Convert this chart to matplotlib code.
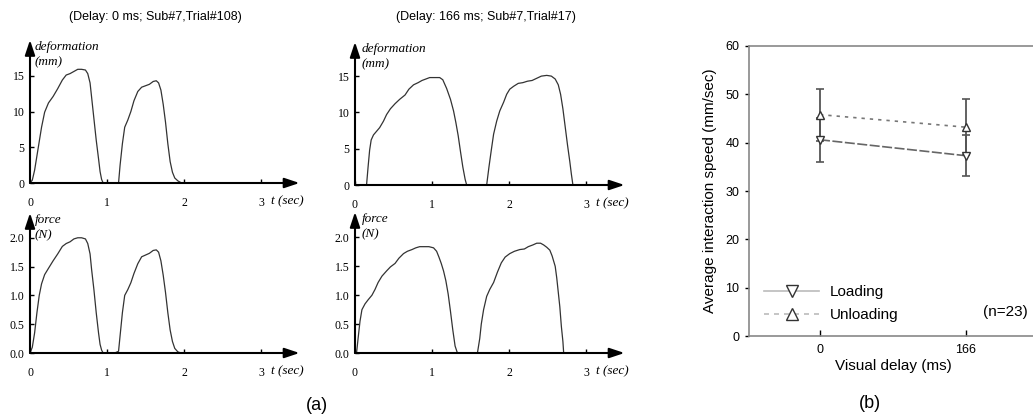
"""
Deformation / force traces for two trials (a) and mean interaction speed vs visual delay (b).
"""

import matplotlib.pyplot as plt
from matplotlib.lines import Line2D

W, H = 1033, 419

# ---- panel (a) traces ----
# Delay 0 ms, deformation (mm)
d0_t1 = [0, .03, .06, .09, .12, .15, .19, .24, .30, .36, .42, .47, .52, .57, .62, .67, .72, .75, .78, .80, .83, .86, .89, .91, .93, .95]
d0_v1 = [0, .4, 1.8, 3.8, 5.8, 7.8, 9.9, 11.2, 12.1, 13.2, 14.4, 15.1, 15.3, 15.6, 15.9, 15.9, 15.8, 15.3, 14.0, 12.0, 9.0, 6.0, 3.4, 1.6, .5, 0]
d0_t2 = [1.15, 1.17, 1.20, 1.23, 1.27, 1.31, 1.35, 1.40, 1.45, 1.50, 1.55, 1.60, 1.64, 1.67, 1.70, 1.73, 1.76, 1.79, 1.82, 1.85, 1.88, 1.92, 1.96, 2.0]
d0_v2 = [0, 2.5, 5.5, 7.8, 8.8, 10.0, 11.5, 12.8, 13.4, 13.6, 13.8, 14.2, 14.3, 14.0, 13.0, 11.0, 8.5, 5.5, 3.0, 1.5, .7, .3, .05, 0]

# Delay 0 ms, force (N)
f0_t1 = [0, .03, .06, .09, .12, .15, .19, .24, .30, .36, .42, .47, .52, .57, .62, .67, .72, .75, .78, .80, .83, .86, .89, .91, .93, .95]
f0_v1 = [0, .1, .35, .7, 1.0, 1.2, 1.36, 1.47, 1.6, 1.72, 1.85, 1.9, 1.93, 1.98, 2.0, 2.0, 1.98, 1.9, 1.72, 1.45, 1.1, .7, .35, .15, .05, 0]
f0_t2 = [1.10, 1.15, 1.17, 1.20, 1.23, 1.27, 1.31, 1.35, 1.40, 1.45, 1.50, 1.55, 1.60, 1.64, 1.67, 1.70, 1.73, 1.76, 1.79, 1.82, 1.85, 1.88, 1.92, 1.96, 2.0]
f0_v2 = [0, .03, .3, .7, 1.0, 1.1, 1.22, 1.38, 1.55, 1.67, 1.70, 1.73, 1.78, 1.79, 1.75, 1.6, 1.35, 1.05, .7, .4, .2, .08, .02, 0, 0]

# Delay 166 ms, deformation (mm)
d166_t1 = [.15, .17, .19, .21, .24, .28, .32, .37, .41, .46, .52, .58, .65, .70, .76, .82, .87, .92, .97, 1.03, 1.10, 1.14, 1.19, 1.24, 1.28, 1.31, 1.34, 1.37, 1.40, 1.43, 1.45]
d166_v1 = [0, 2.5, 4.8, 6.2, 6.9, 7.4, 7.9, 8.8, 9.7, 10.5, 11.2, 11.8, 12.4, 13.2, 13.8, 14.1, 14.4, 14.6, 14.8, 14.8, 14.8, 14.5, 13.3, 11.8, 10.2, 8.6, 6.8, 4.6, 2.5, .8, 0]
d166_t2 = [1.71, 1.74, 1.77, 1.80, 1.84, 1.88, 1.93, 1.97, 2.01, 2.06, 2.12, 2.18, 2.24, 2.30, 2.36, 2.42, 2.49, 2.55, 2.60, 2.64, 2.67, 2.70, 2.73, 2.76, 2.79, 2.81, 2.83]
d166_v2 = [0, 2.5, 4.8, 7.0, 8.8, 10.2, 11.4, 12.5, 13.2, 13.6, 14.0, 14.1, 14.3, 14.4, 14.7, 15.0, 15.1, 15.0, 14.6, 13.8, 12.5, 10.5, 8.0, 5.5, 3.2, 1.5, 0]

# Delay 166 ms, force (N)
f166_t1 = [.02, .04, .065, .09, .13, .17, .22, .26, .30, .35, .41, .46, .52, .57, .63, .68, .74, .79, .84, .90, .96, 1.02, 1.06, 1.09, 1.12, 1.15, 1.18, 1.21, 1.24, 1.27, 1.30, 1.33]
f166_v1 = [0, .25, .55, .75, .85, .92, 1.0, 1.1, 1.22, 1.33, 1.42, 1.49, 1.55, 1.64, 1.72, 1.76, 1.79, 1.82, 1.84, 1.84, 1.84, 1.82, 1.76, 1.66, 1.55, 1.42, 1.25, 1.02, .72, .4, .12, 0]
f166_t2 = [1.59, 1.62, 1.64, 1.67, 1.71, 1.75, 1.80, 1.85, 1.90, 1.95, 2.01, 2.07, 2.14, 2.20, 2.25, 2.31, 2.36, 2.41, 2.45, 2.49, 2.53, 2.56, 2.60, 2.62, 2.64, 2.66, 2.68, 2.70, 2.71]
f166_v2 = [0, .25, .5, .75, .98, 1.1, 1.22, 1.4, 1.56, 1.66, 1.72, 1.76, 1.79, 1.8, 1.84, 1.87, 1.9, 1.9, 1.87, 1.83, 1.78, 1.68, 1.5, 1.3, 1.05, .8, .46, .2, 0]

time_ticks = [0, 1, 2, 3]
defo_ticks = [0, 5, 10, 15]
force_ticks = [0.0, 0.5, 1.0, 1.5, 2.0]
force_ticklabels = ["0.0", "0.5", "1.0", "1.5", "2.0"]

# ---- panel (b) ----
delays = [0, 166]
loading_mean = [40.6, 37.3]
loading_err = [4.6, 4.3]
unloading_mean = [45.8, 43.2]
unloading_err = [5.4, 5.8]

SERIF = "Liberation Serif"
SANS = "Liberation Sans"


def px_rect(left, bottom_px, right, top_px):
    return [left / W, 1 - bottom_px / H, (right - left) / W, (bottom_px - top_px) / H]


def trace_axes(rect, ymax, yticks, yticklabels, ylabel, ylabel_x, traces):
    ax = fig.add_axes(rect)
    ax.set_xlim(0, 3.5)
    ax.set_ylim(0, ymax)
    for s in ax.spines.values():
        s.set_visible(False)
    arrow = dict(arrowstyle="-|>,head_length=0.9,head_width=0.3", lw=1.5,
                 color="black", shrinkA=0, shrinkB=0)
    ax.annotate("", xy=(3.5, 0), xytext=(0, 0), arrowprops=arrow, annotation_clip=False)
    ax.annotate("", xy=(0, ymax), xytext=(0, 0), arrowprops=arrow, annotation_clip=False)
    for t, v in traces:
        ax.plot(t, v, color="#333333", lw=0.9)
    ax.set_xticks(time_ticks)
    ax.set_yticks(yticks)
    ax.set_yticklabels(yticklabels)
    ax.tick_params(axis="x", direction="in", length=3, width=1, pad=10)
    ax.tick_params(axis="y", direction="in", length=3, width=1, pad=4)
    for lab in ax.get_xticklabels() + ax.get_yticklabels():
        lab.set_fontfamily(SERIF)
        lab.set_fontsize(8.5)
    ax.text(3.13, -0.13 * ymax, "t (sec)", fontfamily=SERIF, style="italic",
            fontsize=9.5, va="center", ha="left")
    ax.text(ylabel_x, 0.99 * ymax, ylabel, fontfamily=SERIF, style="italic",
            fontsize=9.5, va="top", ha="left", linespacing=1.3)
    return ax


fig = plt.figure(figsize=(W / 100, H / 100), dpi=100)

trace_axes(px_rect(30, 183, 30 + 269.5, 40), 20.0, defo_ticks, [str(v) for v in defo_ticks],
           "deformation\n(mm)", 0.06, [(d0_t1, d0_v1), (d0_t2, d0_v2)])
trace_axes(px_rect(30, 353, 30 + 269.5, 213), 2.43, force_ticks, force_ticklabels,
           "force\n(N)", 0.06, [(f0_t1, f0_v1), (f0_t2, f0_v2)])
trace_axes(px_rect(355, 185, 355 + 269.5, 42), 19.7, defo_ticks, [str(v) for v in defo_ticks],
           "deformation\n(mm)", 0.09, [(d166_t1, d166_v1), (d166_t2, d166_v2)])
trace_axes(px_rect(355, 353, 355 + 269.5, 212), 2.44, force_ticks, force_ticklabels,
           "force\n(N)", 0.09, [(f166_t1, f166_v1), (f166_t2, f166_v2)])

fig.text(155 / W, 1 - 17 / H, "(Delay: 0 ms; Sub#7,Trial#108)", fontfamily=SANS,
         fontsize=9, ha="center", va="center")
fig.text(486 / W, 1 - 17 / H, "(Delay: 166 ms; Sub#7,Trial#17)", fontfamily=SANS,
         fontsize=9, ha="center", va="center")
fig.text(317 / W, 1 - 405 / H, "(a)", fontfamily=SANS, fontsize=13, ha="center", va="center")
fig.text(870 / W, 1 - 403 / H, "(b)", fontfamily=SANS, fontsize=13, ha="center", va="center")

# ---- panel (b) ----
bx = fig.add_axes(px_rect(749, 336, 1037, 46))
bx.set_xlim(-80.7, 246.7)
bx.set_ylim(0, 60)
for side in ("left", "bottom", "top"):
    bx.spines[side].set_color("#888888")
    bx.spines[side].set_linewidth(1.2)
bx.spines["right"].set_visible(False)

bx.plot(delays, loading_mean, color="#666666", lw=1.2, ls=(0, (6, 1.5)), zorder=2)
bx.plot(delays, unloading_mean, color="#777777", lw=1.2, ls=(0, (2, 3)), zorder=2)
bx.errorbar(delays, unloading_mean, yerr=unloading_err, fmt="none", ecolor="#555555",
            elinewidth=1.3, capsize=3, capthick=1.2, zorder=3)
bx.errorbar(delays, loading_mean, yerr=loading_err, fmt="none", ecolor="#555555",
            elinewidth=1.3, capsize=3, capthick=1.2, zorder=3)
bx.plot(delays, loading_mean, ls="none", marker="v", ms=6, mfc="white", mec="#333333",
        mew=1.0, zorder=4)
bx.plot(delays, unloading_mean, ls="none", marker="^", ms=6, mfc="white", mec="#333333",
        mew=1.0, zorder=4)

bx.set_xticks(delays)
bx.set_xticklabels(["0", "166"])
bx.set_yticks([0, 10, 20, 30, 40, 50, 60])
bx.tick_params(axis="x", direction="in", length=4, width=1, pad=6, labelsize=9)
bx.tick_params(axis="y", direction="out", length=3, width=1, pad=4, labelsize=9)
for lab in bx.get_xticklabels() + bx.get_yticklabels():
    lab.set_fontfamily(SANS)
bx.set_xlabel("Visual delay (ms)", fontfamily=SANS, fontsize=11, labelpad=2)
bx.set_ylabel("Average interaction speed (mm/sec)", fontfamily=SANS, fontsize=11, labelpad=6)

handles = [
    Line2D([], [], color="#bbbbbb", lw=1.2, ls="-", marker="v", ms=9, mfc="white",
           mec="#333333", mew=1.0),
    Line2D([], [], color="#bbbbbb", lw=1.2, ls=(0, (3, 3)), marker="^", ms=9, mfc="white",
           mec="#333333", mew=1.0),
]
bx.legend(handles, ["Loading", "Unloading"], loc="lower left", bbox_to_anchor=(0.005, 0.0),
          frameon=False, handlelength=3.6, handletextpad=0.7, labelspacing=0.6,
          prop={"family": SANS, "size": 11})
bx.text(1005 / W, 1 - 312 / H, "(n=23)", transform=fig.transFigure, fontfamily=SANS,
        fontsize=11, ha="center", va="center")

fig.savefig("out.png", dpi=100)
